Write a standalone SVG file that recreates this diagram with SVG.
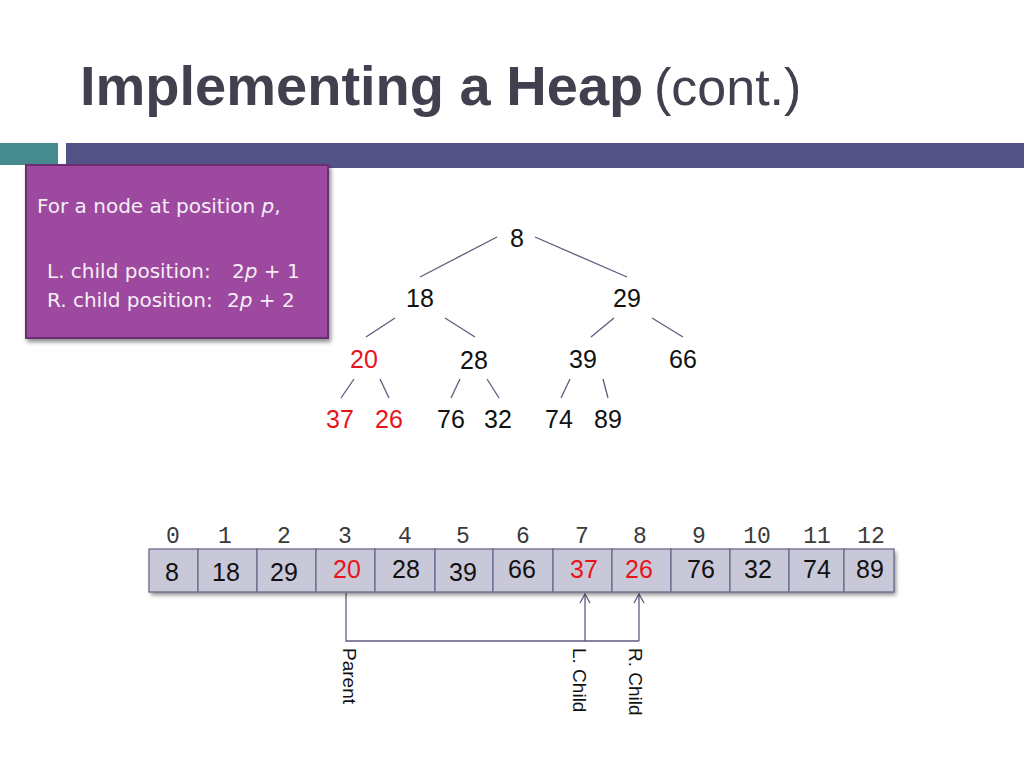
<svg xmlns="http://www.w3.org/2000/svg" width="1024" height="768" viewBox="0 0 1024 768">
<style>
.title{font-family:"Liberation Sans",Arial,sans-serif;fill:#40404f}
.box{font-family:"DejaVu Sans","Noto Sans",sans-serif;font-size:20px;fill:#f6eef6}
.node{font-family:"Liberation Sans",Arial,sans-serif;font-size:25px;fill:#111;text-anchor:middle}
.idx{font-family:"Liberation Mono","Courier New",monospace;font-size:23px;fill:#3a3a3a;text-anchor:middle}
.cell{fill:#c9c8d9;stroke:#6a6a8c;stroke-width:1.3}
.val{font-family:"Liberation Sans",Arial,sans-serif;font-size:25px;fill:#111;text-anchor:middle}
.node.red,.val.red{fill:#e8141c}
.edge{stroke:#5c5c7e;stroke-width:1.3;fill:none}
.lab{font-family:"Liberation Sans",Arial,sans-serif;font-size:19px;fill:#111}
</style>
<defs>
<filter id="sh" x="-5%" y="-20%" width="110%" height="150%">
<feDropShadow dx="2" dy="3" stdDeviation="2" flood-color="#000" flood-opacity="0.45"/>
</filter>
<marker id="arr" viewBox="-11 -7 13 14" markerWidth="13" markerHeight="14" refX="0" refY="0" orient="auto" markerUnits="userSpaceOnUse">
<path d="M-9,-5 L0,0 L-9,5" fill="none" stroke="#5c5c7e" stroke-width="1.3"/>
</marker>
</defs>
<rect width="1024" height="768" fill="#ffffff"/>

<g id="title">
<text class="title" x="80" y="105" font-size="56" font-weight="bold">Implementing a Heap</text>
<text class="title" x="654" y="105" font-size="52">(cont.)</text>
</g>

<g id="header-bars">
<rect x="0" y="143" width="58" height="22" fill="#458b8d"/>
<rect x="66" y="143" width="958" height="25" fill="#535387"/>
</g>

<g id="info-box">
<rect x="26" y="165" width="302" height="173" fill="#9c4a9f" stroke="#6c2e72" stroke-width="2" filter="url(#sh)"/>
<text class="box" x="37" y="213">For a node at position <tspan font-style="italic">p</tspan>,</text>
<text class="box" x="47" y="278">L. child position:</text>
<text class="box" x="232" y="278">2<tspan font-style="italic">p</tspan> + 1</text>
<text class="box" x="47" y="307">R. child position:</text>
<text class="box" x="227" y="307">2<tspan font-style="italic">p</tspan> + 2</text>
</g>

<g id="connectors">
<line class="edge" x1="497" y1="237" x2="420" y2="277"/>
<line class="edge" x1="535" y1="237" x2="627" y2="277"/>
<line class="edge" x1="395" y1="318" x2="366" y2="337"/>
<line class="edge" x1="445" y1="318" x2="475" y2="337"/>
<line class="edge" x1="614" y1="318" x2="591" y2="337"/>
<line class="edge" x1="652" y1="318" x2="683" y2="337"/>
<line class="edge" x1="354" y1="379" x2="341" y2="398"/>
<line class="edge" x1="380" y1="379" x2="389" y2="398"/>
<line class="edge" x1="460" y1="379" x2="451" y2="398"/>
<line class="edge" x1="487" y1="379" x2="499" y2="398"/>
<line class="edge" x1="570" y1="379" x2="561" y2="398"/>
<line class="edge" x1="603" y1="379" x2="608" y2="398"/>
<polyline class="edge" points="346,593 346,641 639,641"/>
<line class="edge" x1="585" y1="641" x2="585" y2="594" marker-end="url(#arr)"/>
<line class="edge" x1="639" y1="641" x2="639" y2="594" marker-end="url(#arr)"/>
</g>

<g id="tree-nodes">
<g id="t8"><text class="node" x="517" y="247">8</text></g>
<g id="t18"><text class="node" x="420" y="307">18</text></g>
<g id="t29"><text class="node" x="627" y="307">29</text></g>
<g id="t20"><text class="node red" x="364" y="368">20</text></g>
<g id="t28"><text class="node" x="474" y="369">28</text></g>
<g id="t39"><text class="node" x="583" y="368">39</text></g>
<g id="t66"><text class="node" x="683" y="368">66</text></g>
<g id="t37"><text class="node red" x="340" y="428">37</text></g>
<g id="t26"><text class="node red" x="389" y="428">26</text></g>
<g id="t76"><text class="node" x="451" y="428">76</text></g>
<g id="t32"><text class="node" x="498" y="428">32</text></g>
<g id="t74"><text class="node" x="559" y="428">74</text></g>
<g id="t89"><text class="node" x="608" y="428">89</text></g>
</g>

<g id="array">
<rect x="149" y="549" width="745" height="43" fill="#c9c8d9" filter="url(#sh)"/>
<g id="c0"><rect class="cell" x="149" y="549" width="49" height="43"/><text class="idx" x="173" y="543">0</text><text class="val" x="172" y="581">8</text></g>
<g id="c1"><rect class="cell" x="198" y="549" width="59" height="43"/><text class="idx" x="225" y="543">1</text><text class="val" x="226" y="581">18</text></g>
<g id="c2"><rect class="cell" x="257" y="549" width="59" height="43"/><text class="idx" x="284" y="543">2</text><text class="val" x="284" y="581">29</text></g>
<g id="c3"><rect class="cell" x="316" y="549" width="59" height="43"/><text class="idx" x="345" y="543">3</text><text class="val red" x="347" y="578">20</text></g>
<g id="c4"><rect class="cell" x="375" y="549" width="60" height="43"/><text class="idx" x="405" y="543">4</text><text class="val" x="406" y="578">28</text></g>
<g id="c5"><rect class="cell" x="435" y="549" width="58" height="43"/><text class="idx" x="463" y="543">5</text><text class="val" x="463" y="581">39</text></g>
<g id="c6"><rect class="cell" x="493" y="549" width="60" height="43"/><text class="idx" x="523" y="543">6</text><text class="val" x="522" y="578">66</text></g>
<g id="c7"><rect class="cell" x="553" y="549" width="59" height="43"/><text class="idx" x="582" y="543">7</text><text class="val red" x="584" y="578">37</text></g>
<g id="c8"><rect class="cell" x="612" y="549" width="59" height="43"/><text class="idx" x="640" y="543">8</text><text class="val red" x="639" y="578">26</text></g>
<g id="c9"><rect class="cell" x="671" y="549" width="59" height="43"/><text class="idx" x="699" y="543">9</text><text class="val" x="701" y="578">76</text></g>
<g id="c10"><rect class="cell" x="730" y="549" width="59" height="43"/><text class="idx" x="757" y="543">10</text><text class="val" x="758" y="578">32</text></g>
<g id="c11"><rect class="cell" x="789" y="549" width="55" height="43"/><text class="idx" x="817" y="543">11</text><text class="val" x="817" y="578">74</text></g>
<g id="c12"><rect class="cell" x="844" y="549" width="50" height="43"/><text class="idx" x="871" y="543">12</text><text class="val" x="870" y="578">89</text></g>
</g>

<g id="labels">
<text class="lab" transform="translate(343,648) rotate(90)">Parent</text>
<text class="lab" transform="translate(573,648) rotate(90)">L. Child</text>
<text class="lab" transform="translate(629,648) rotate(90)">R. Child</text>
</g>
</svg>
